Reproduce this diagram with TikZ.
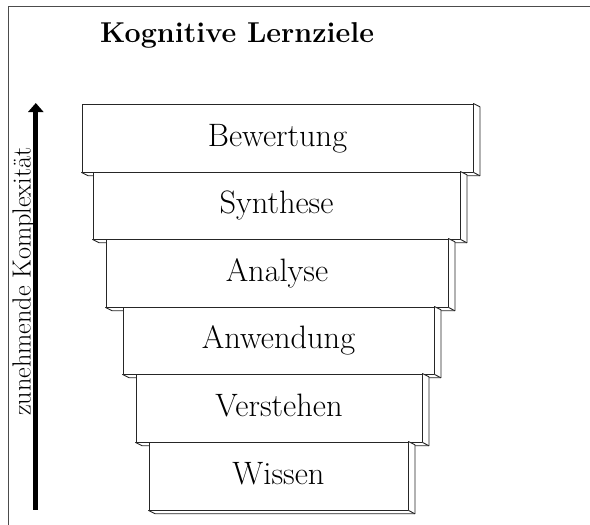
\documentclass[tikz,border=0pt]{standalone}
\usetikzlibrary{arrows.meta}
\begin{document}
\begin{tikzpicture}[x=1pt,y=-1pt,
  slab/.style={draw=black!85, line width=0.9pt, fill=white, inner sep=0pt,
    minimum height=68pt, text height=24pt, text depth=8pt,
    font=\fontsize{32.4}{36}\selectfont},
  face/.style={draw=black!85, line width=0.9pt, fill=white, line join=round},
  frameline/.style={draw=black!70, line width=1pt}]
\useasboundingbox (0,0) rectangle (590,525);

% outer frame (open at the bottom and on the right)
\coordinate (fbl) at (8,525);
\coordinate (ftl) at (8,6);
\coordinate (ftr) at (590,6);
\draw[frameline] (fbl) -- (ftl) -- (ftr);

% heading
\node[anchor=base west, inner sep=0pt, font=\fontsize{28.7}{32}\selectfont\bfseries]
  (title) at (100,42.7) {Kognitive Lernziele};

% stacked slabs, top to bottom; each one covers the bottom face of the one above
\def\dx{6.5}\def\dy{3.3}
\foreach \name/\l/\r/\t/\b/\txt in {
    s1/82/473/104/172/Bewertung,
    s2/93/460/172/239/Synthese,
    s3/106/448/239/307/Analyse,
    s4/123/434/307/374/Anwendung,
    s5/136/422/374/442/Verstehen,
    s6/149/408/442/510/Wissen}{
  \pgfmathsetmacro{\w}{\r-\l}
  \pgfmathsetmacro{\h}{\b-\t}
  \node[slab, minimum width=\w pt, minimum height=\h pt]
    (\name) at ({(\l+\r)/2},{(\t+\b)/2}) {\txt};
  \filldraw[face] (\name.north east) -- ++(\dx,\dy)
    -- ([shift={(\dx,\dy)}]\name.south east)
    -- ([shift={(\dx,\dy)}]\name.south west)
    -- (\name.south west) -- (\name.south east) -- cycle;
  \draw[face] (\name.south east) -- ++(\dx,\dy);
  \draw[face] (\name.north east) -- (\name.south east);
}

% complexity axis
\coordinate (abot) at (35.8,509.5);
\coordinate (atop) at (35.8,103);
\draw[line width=5pt, -{Triangle[width=15pt,length=9pt]}] (abot) -- (atop);
\node[rotate=90, inner sep=0pt, font=\fontsize{26.2}{29}\selectfont]
  (axislabel) at (24,281.5) {zunehmende Komplexität};
\end{tikzpicture}
\end{document}
